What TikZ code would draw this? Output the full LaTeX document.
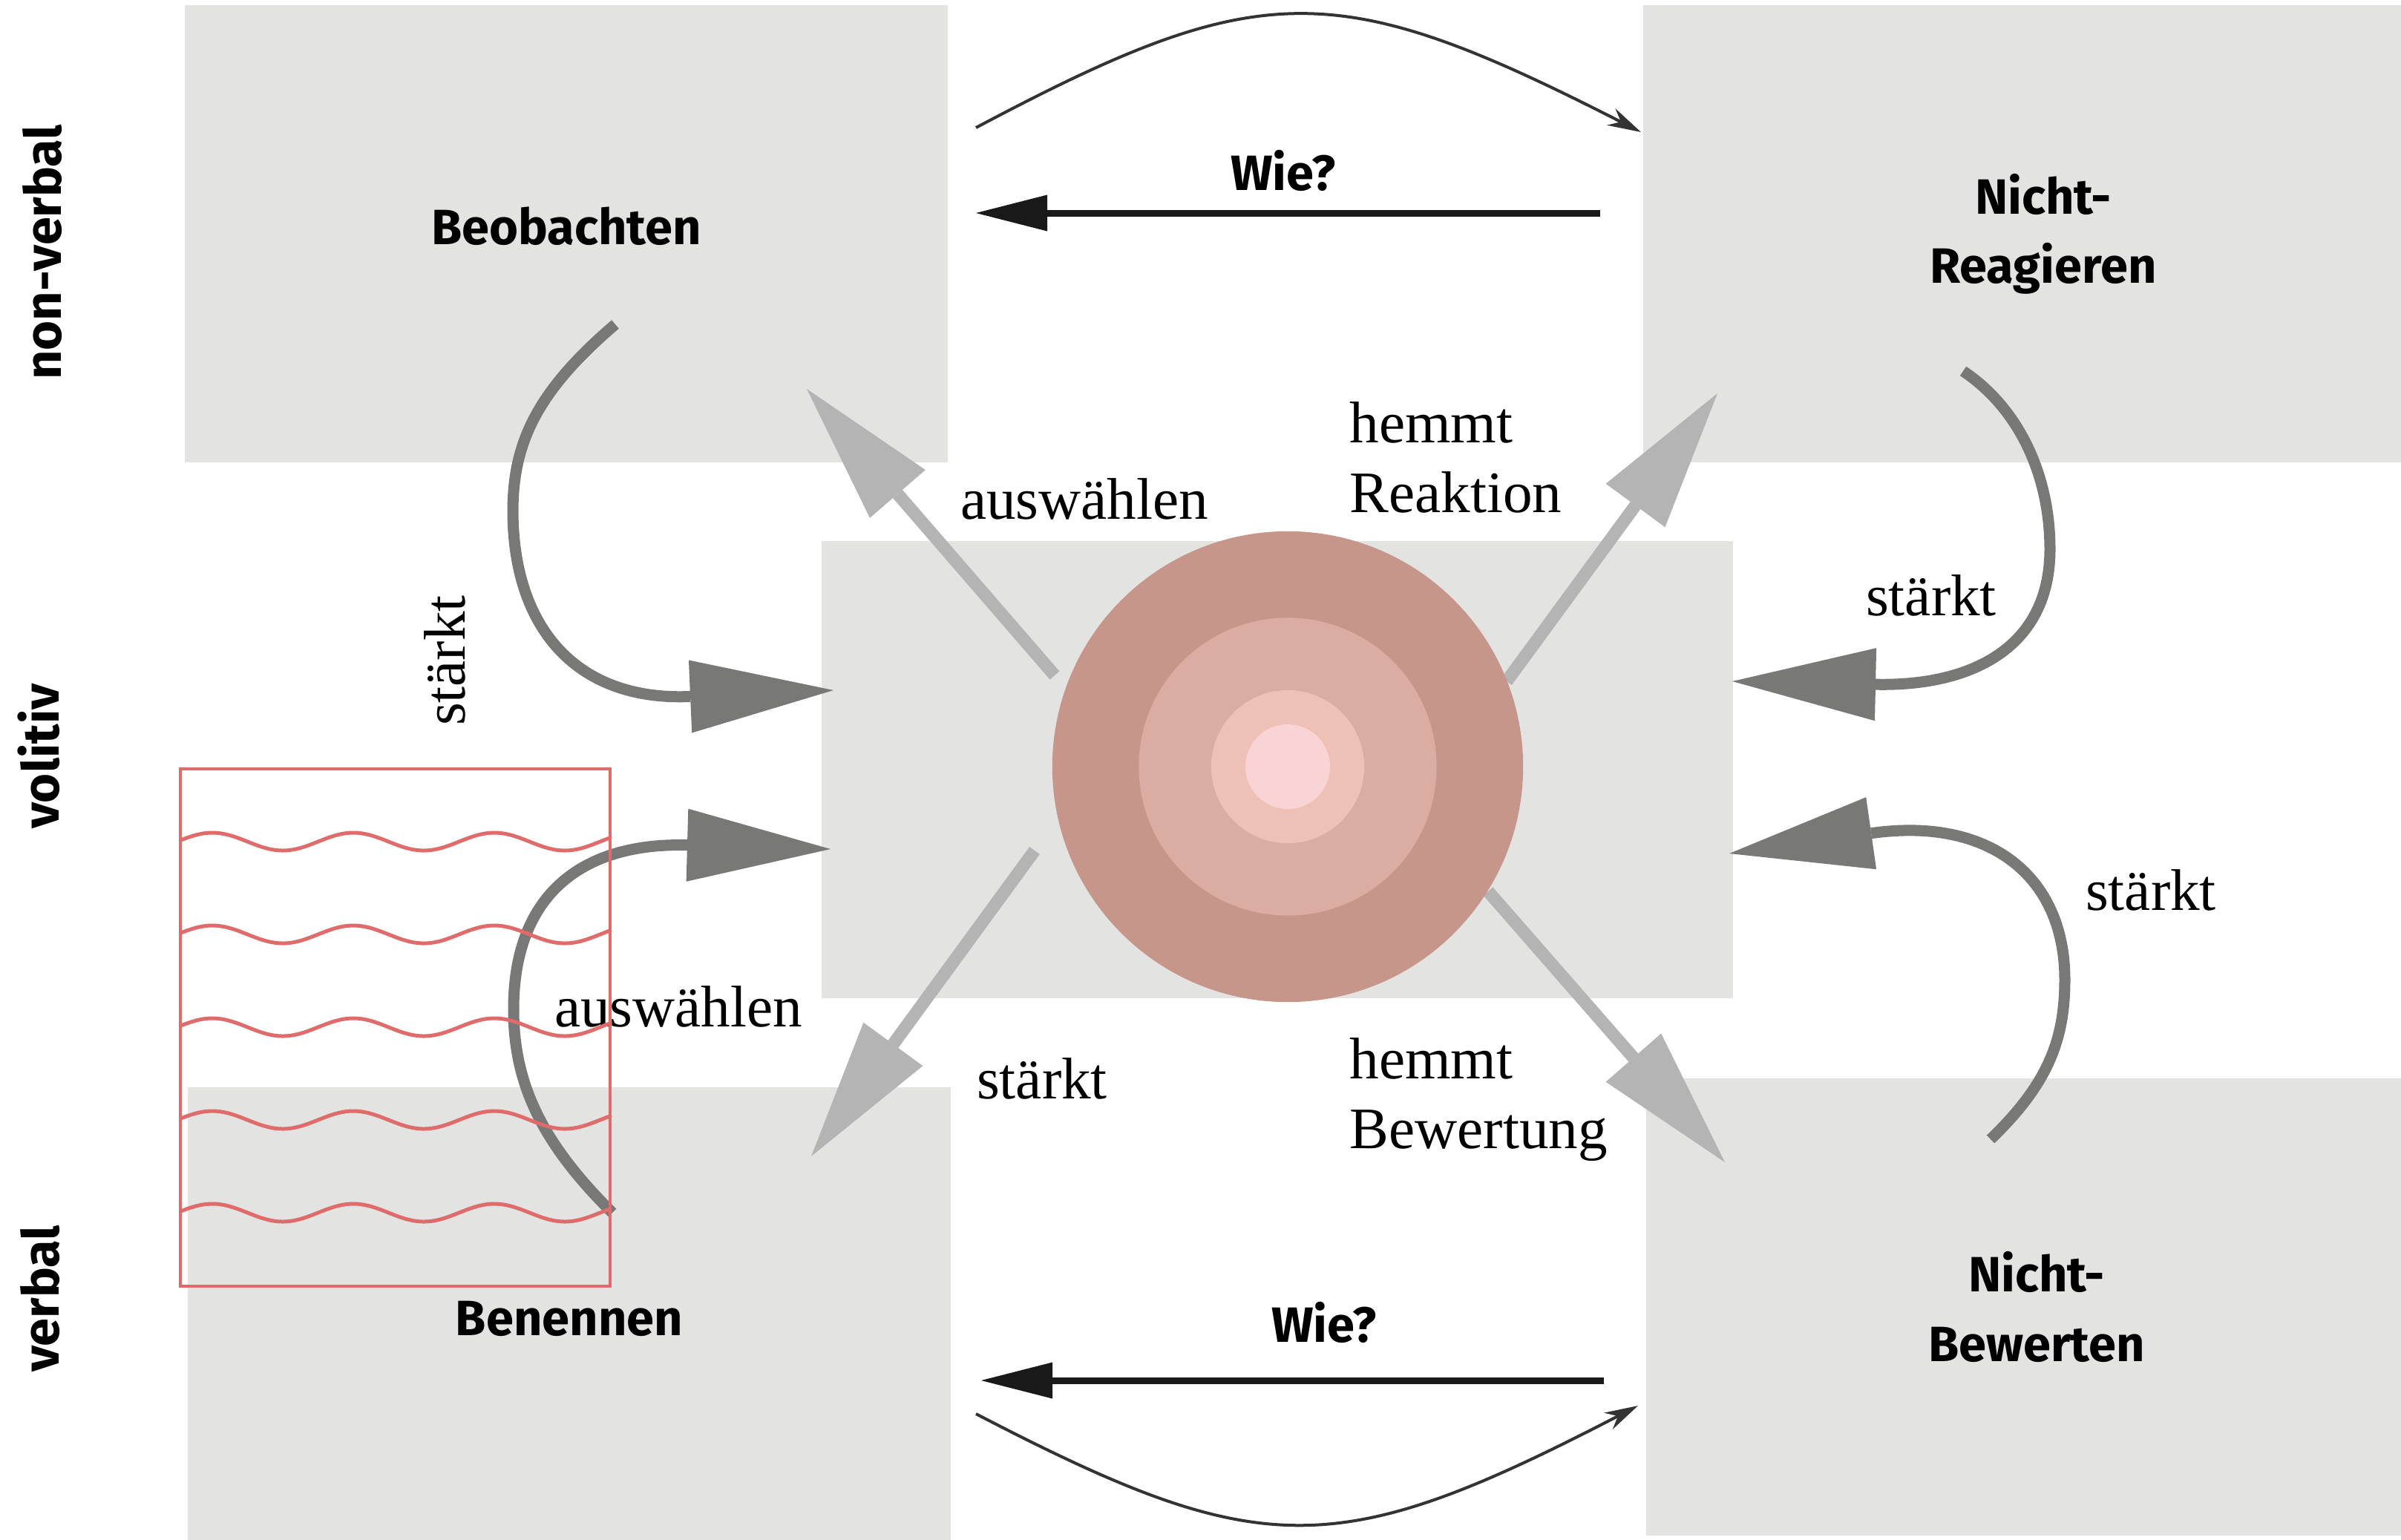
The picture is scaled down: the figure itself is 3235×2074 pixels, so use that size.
\documentclass[tikz,border=0pt]{standalone}
\usepackage{fontspec}
\setmainfont{Liberation Serif}
\setsansfont{Fira Sans}
\usetikzlibrary{arrows.meta, positioning}

\definecolor{boxgray}{HTML}{E3E3E2}
\definecolor{lightarr}{HTML}{B4B4B4}
\definecolor{darkarr}{HTML}{787877}
\definecolor{ringa}{HTML}{C6968A}
\definecolor{ringb}{HTML}{DBADA2}
\definecolor{ringc}{HTML}{EFC0B6}
\definecolor{ringd}{HTML}{FAD4D4}
\definecolor{redline}{HTML}{E06B6B}

\tikzset{
  panel/.style={fill=boxgray, inner sep=0pt, align=center,
    font=\sffamily\bfseries\fontsize{19}{26.5}\selectfont},
  core/.style={circle, inner sep=0pt, fill=ringa},
  side/.style={rotate=90, inner sep=0pt, font=\sffamily\bfseries\fontsize{19.5}{24}\selectfont},
  wiel/.style={inner sep=0pt, font=\sffamily\bfseries\fontsize{19}{24}\selectfont},
  lbl/.style={inner sep=0pt, font=\fontsize{22.5}{26.7}\selectfont},
  heavy/.style={draw=darkarr, line width=0.15cm,
    -{Triangle[length=1.93cm, width=0.98cm, line width=0pt]}},
  light/.style={draw=lightarr, line width=0.17cm,
    -{Triangle[length=1.87cm, width=0.99cm, line width=0pt]}},
  wiearrow/.style={draw=black!90, line width=0.09cm,
    -{Triangle[length=0.96cm, width=0.49cm, line width=0pt]}},
  bow/.style={draw=black!80, line width=0.04cm, -{Stealth[length=0.45cm, width=0.25cm]}},
  marker/.style={draw=redline, line width=0.045cm, inner sep=0pt},
  wave/.style={draw=redline, line width=0.05cm, line cap=round},
}

\begin{document}
\begin{tikzpicture}[x=0.01cm, y=-0.01cm]
\useasboundingbox (0,0) rectangle (3235,2074);

% fields
\node[panel, minimum width=10.27cm, minimum height=6.15cm, text depth=0.22cm] (beob) at (763,315) {Beobachten};
\node[panel, minimum width=10.78cm, minimum height=6.15cm] (reag) at (2753,315) {Nicht-\\Reagieren};
\node[panel, minimum width=10.27cm, minimum height=6.24cm] (benn) at (767,1777) {Benennen};
\node[panel, minimum width=10.52cm, minimum height=6.15cm] (bew) at (2744,1761) {Nicht-\\Bewerten};
\node[panel, minimum width=12.27cm, minimum height=6.15cm] (mitte) at (1721,1037) {};

% end points
\coordinate (ulS) at (1421,910);  \coordinate (ulT) at (1087,524);
\coordinate (urS) at (2030,918);  \coordinate (urT) at (2314,530);
\coordinate (llS) at (1394,1146); \coordinate (llT) at (1093,1558);
\coordinate (lrS) at (2005,1201); \coordinate (lrT) at (2324,1566);

% straight arrows out of the centre
\foreach \s/\t in {ulS/ulT, urS/urT, llS/llT, lrS/lrT}
  \draw[light] (\s) -- (\t);

% centre
\node[core, minimum size=6.34cm] (kern) at (1735,1033) {};
\foreach \r/\c in {2.005/ringb, 1.03/ringc, 0.57/ringd}
  \fill[\c] (kern.center) circle[radius=\r cm];

% curved arrows
\coordinate (o1) at (829,437);   \coordinate (e1) at (1123,930);
\coordinate (o2) at (825,1634);  \coordinate (e2) at (1119,1144);
\coordinate (o3) at (2645,500);  \coordinate (e3) at (2334,918);
\coordinate (o4) at (2682,1535); \coordinate (e4) at (2330,1150);
\draw[heavy] (o1) .. controls (720,530) and (691,600) .. (691,690)
  .. controls (692,850) and (780,945) .. (e1);
\draw[heavy] (o2) .. controls (730,1540) and (692,1460) .. (692,1360)
  .. controls (692,1200) and (790,1135) .. (e2);
\draw[heavy] (o3) .. controls (2720,550) and (2762,640) .. (2762,740)
  .. controls (2762,870) and (2660,925) .. (e3);
\draw[heavy] (o4) .. controls (2760,1460) and (2782,1400) .. (2782,1320)
  .. controls (2782,1180) and (2680,1100) .. (e4);

% Wie? arrows and arcs
\coordinate (w1) at (2156,287);  \coordinate (w2) at (1315,287);
\coordinate (w3) at (2161,1860); \coordinate (w4) at (1322,1860);
\draw[wiearrow] (w1) -- (w2);
\draw[wiearrow] (w3) -- (w4);
\coordinate (a1) at (1315,172);  \coordinate (a2) at (2211,178);
\coordinate (a3) at (1315,1905); \coordinate (a4) at (2207,1894);
\draw[bow] (a1) .. controls (1699,-32) and (1800,-32) .. (a2);
\draw[bow] (a3) .. controls (1700,2105) and (1800,2105) .. (a4);
\node[wiel, anchor=base] (wie1) at (1729,256) {Wie?};
\node[wiel, anchor=base] (wie2) at (1784,1808) {Wie?};

% side labels
\node[side, anchor=base] (nv) at (83,340) {non-verbal};
\node[side, anchor=base] (vo) at (79,1019) {volitiv};
\node[side, anchor=base] (ve) at (79,1750) {verbal};

% arrow labels
\node[lbl, anchor=base] (t1) at (1461,699) {auswählen};
\node[lbl, anchor=north west, align=left] (t2) at (1818,541) {hemmt\\Reaktion};
\node[lbl, anchor=base] (t3) at (2602,829) {stärkt};
\node[lbl, anchor=base] (t4) at (2898,1226) {stärkt};
\node[lbl, anchor=base] (t5) at (914,1383) {auswählen};
\node[lbl, anchor=base] (t6) at (1404,1480) {stärkt};
\node[lbl, anchor=north west, align=left] (t7) at (1818,1398) {hemmt\\Bewertung};
\node[lbl, rotate=90, anchor=base] (t8) at (626,890) {stärkt};

% red marking
\node[marker, minimum width=5.79cm, minimum height=6.97cm] (mark) at (532.5,1384.5) {};
\foreach \i [evaluate=\i as \wy using 1134+125*\i] in {0,...,4}
  \draw[wave] plot[domain=245:822, samples=90, smooth] (\x, {\wy - 12*cos(1.8947*(\x-286))});
\end{tikzpicture}
\end{document}
